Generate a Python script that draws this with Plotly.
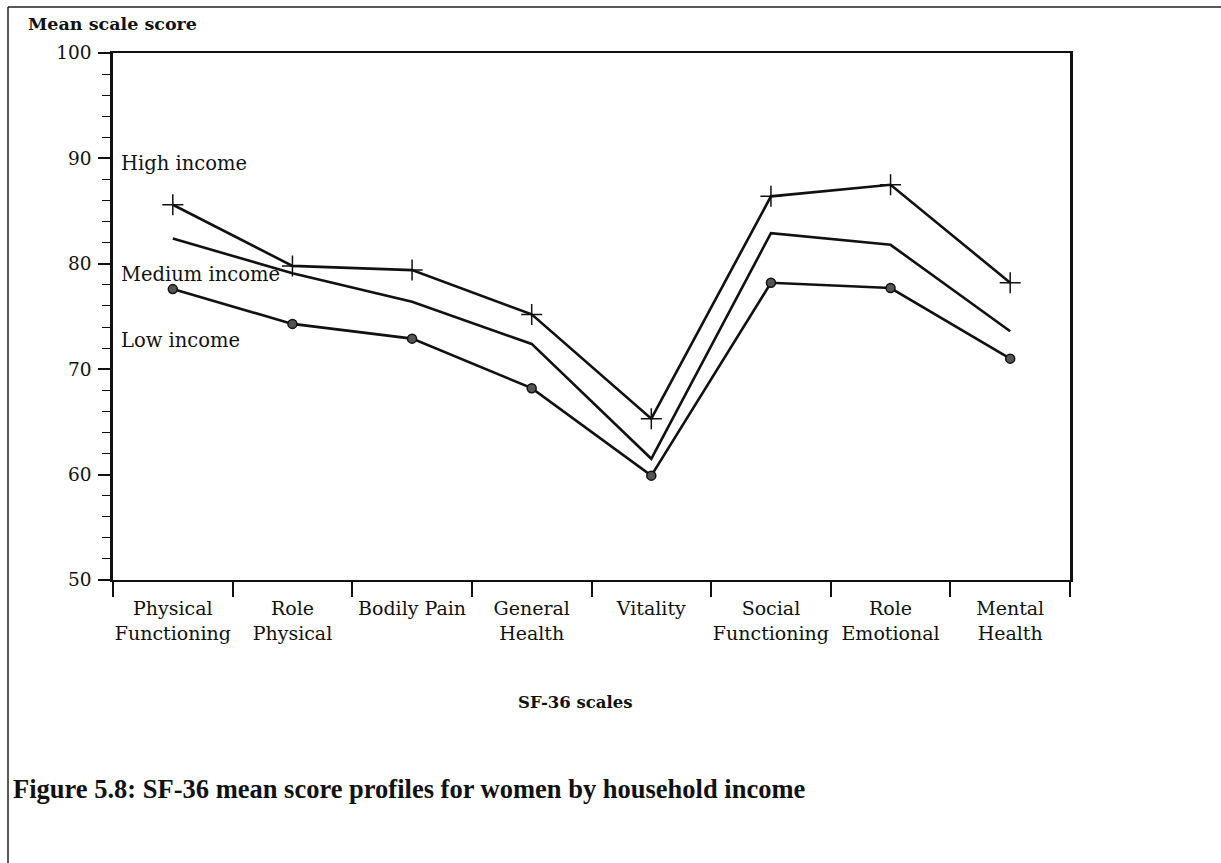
import plotly.graph_objects as go

# ---- data ----
scales = ["Physical<br>Functioning", "Role<br>Physical", "Bodily Pain", "General<br>Health",
          "Vitality", "Social<br>Functioning", "Role<br>Emotional", "Mental<br>Health"]
high_income = [85.6, 79.8, 79.4, 75.2, 65.3, 86.4, 87.5, 78.2]
medium_income = [82.4, 79.1, 76.4, 72.4, 61.5, 82.9, 81.8, 73.6]
low_income = [77.6, 74.3, 72.9, 68.2, 59.9, 78.2, 77.7, 71.0]
y_ticks = [50, 60, 70, 80, 90, 100]

# ---- layout geometry (pixels) ----
W, H = 1221, 863
L, R, T, B = 113, 1070, 53, 580
pw, ph = R - L, B - T


def px(x):
    return (x - L) / pw


def py(y):
    return (B - y) / ph


SERIF = "DejaVu Serif"
fig = go.Figure()

fig.add_trace(go.Scatter(x=scales, y=high_income, mode="lines+markers", name="High income",
                         line=dict(color="#111", width=2.6),
                         marker=dict(symbol="cross-thin", size=15, line=dict(color="#111", width=1.5))))
fig.add_trace(go.Scatter(x=scales, y=medium_income, mode="lines", name="Medium income",
                         line=dict(color="#111", width=2.6)))
fig.add_trace(go.Scatter(x=scales, y=low_income, mode="lines+markers", name="Low income",
                         line=dict(color="#111", width=2.6),
                         marker=dict(symbol="circle", size=9, color="#555",
                                     line=dict(color="#111", width=1.5))))

fig.update_xaxes(type="category", range=[-0.5, 7.5], tickson="boundaries",
                 ticks="outside", ticklen=15, tickwidth=1.5, tickcolor="#111",
                 showline=True, linewidth=2, linecolor="#111", mirror=True,
                 showgrid=False, zeroline=False, ticklabelstandoff=10, tickangle=0,
                 tickfont=dict(family=SERIF, size=19, color="#111"))
fig.update_yaxes(range=[50, 100], tickvals=y_ticks, ticks="outside", ticklen=12,
                 tickwidth=1.5, tickcolor="#111",
                 minor=dict(dtick=2, ticks="outside", ticklen=8, tickwidth=1, tickcolor="#111"),
                 showline=True, linewidth=2.5, linecolor="#111", mirror=True,
                 showgrid=False, zeroline=False, ticklabelstandoff=3,
                 tickfont=dict(family=SERIF, size=18.5, color="#111"))

ann = []
ann.append(dict(text="<b>Mean scale score</b>", x=px(26), y=py(24), xanchor="left", yanchor="middle",
                font=dict(family=SERIF, size=17.5, color="#111")))
ann.append(dict(text="High income", x=px(119), y=py(164), xanchor="left", yanchor="middle",
                font=dict(family=SERIF, size=19.5, color="#111")))
ann.append(dict(text="Medium income", x=px(119), y=py(274), xanchor="left", yanchor="middle",
                font=dict(family=SERIF, size=19.5, color="#111")))
ann.append(dict(text="Low income", x=px(119), y=py(340), xanchor="left", yanchor="middle",
                font=dict(family=SERIF, size=19.5, color="#111")))
ann.append(dict(text="<b>SF-36 scales</b>", x=px(575), y=py(702), xanchor="center", yanchor="middle",
                font=dict(family=SERIF, size=16.5, color="#111")))
ann.append(dict(text="<b>Figure 5.8: SF-36 mean score profiles for women by household income</b>",
                x=px(11), y=py(789), xanchor="left", yanchor="middle",
                font=dict(family="Liberation Serif", size=26.5, color="#111")))
for a in ann:
    a.update(xref="paper", yref="paper", showarrow=False)

shapes = [
    dict(type="line", xref="paper", yref="paper", x0=px(8), x1=px(W), y0=py(7), y1=py(7),
         line=dict(color="#222", width=1.5)),
    dict(type="line", xref="paper", yref="paper", x0=px(8), x1=px(8), y0=py(7), y1=py(H),
         line=dict(color="#222", width=1.5)),
]

fig.update_layout(width=W, height=H, autosize=False,
                  margin=dict(l=L, r=W - R, t=T, b=H - B, pad=0),
                  paper_bgcolor="white", plot_bgcolor="white",
                  showlegend=False, annotations=ann, shapes=shapes)

fig.write_html("out.html", config={"displayModeBar": False},
               post_script="document.body.style.margin='0';document.body.style.overflow='hidden';")
